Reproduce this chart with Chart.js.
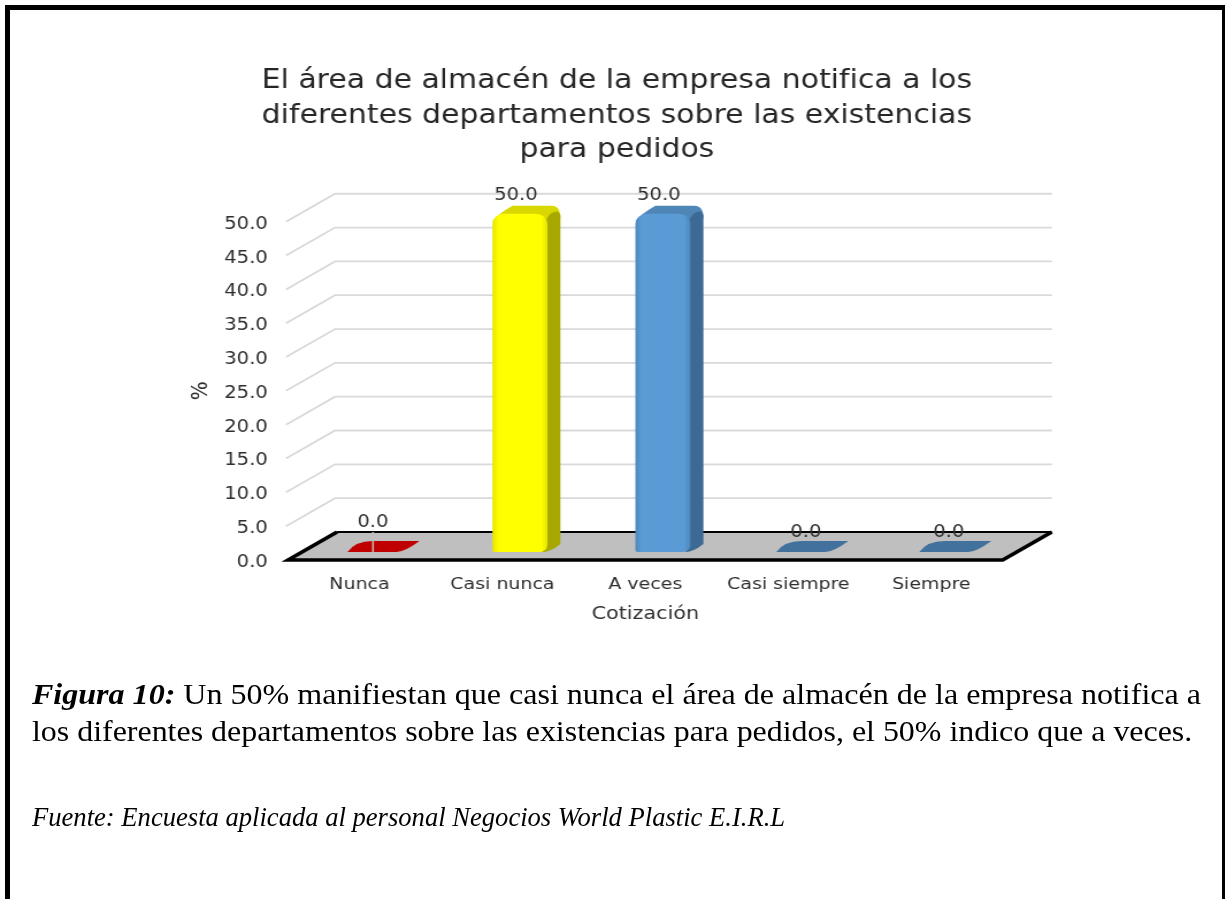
<!DOCTYPE html>
<html lang="es">
<head>
<meta charset="utf-8">
<title>Figura 10</title>
<script src="https://cdn.jsdelivr.net/npm/chart.js@4/dist/chart.umd.js"></script>
<style>
  html, body { margin: 0; padding: 0; background: #fff; }
  #page { position: relative; width: 1225px; height: 899px; overflow: hidden; }
  #frame { position: absolute; left: 5px; top: 5px; width: 1222px; height: 900px; border: 5px solid #000; box-sizing: border-box; }
  /* the figure is pasted in slightly widened */
  #barChart { position: absolute; left: 0; top: 0; transform: scaleX(1.15); transform-origin: 0 0; }
  .caption { position: absolute; left: 32px; margin: 0; font-family: "Liberation Serif", serif; color: #000; white-space: nowrap; transform-origin: 0 0; }
  #fig1 { top: 675px; font-size: 30px; line-height: 37px; transform: scaleX(1.068); }
  #fig2 { top: 712px; font-size: 30px; line-height: 37px; transform: scaleX(1.064); }
  #source { top: 801px; font-size: 26.6px; line-height: 32px; font-style: italic; }
</style>
</head>
<body>
<div id="page">
  <div id="frame"></div>
  <canvas id="barChart" width="1065" height="899"></canvas>
  <p class="caption" id="fig1"><b><i>Figura 10:</i></b> Un 50% manifiestan que casi nunca el área de almacén de la empresa notifica a</p>
  <p class="caption" id="fig2">los diferentes departamentos sobre las existencias para pedidos, el 50% indico que a veces.</p>
  <p class="caption" id="source">Fuente: Encuesta aplicada al personal Negocios World Plastic E.I.R.L</p>
</div>
<script>
const categories = ['Nunca', 'Casi nunca', 'A veces', 'Casi siempre', 'Siempre'];
const percentages = [0, 50, 50, 0, 0];
const frontColors = ['#c00000', '#ffff00', '#5b9bd5', '#41719c', '#41719c'];
const edgeColors = ['#c00000', '#e4e400', '#4c86bb', '#41719c', '#41719c'];
const sideColors = ['#8f0000', '#a8a800', '#3d6a94', '#2f5578', '#2f5578'];
const topColors = ['#c00000', '#d8d800', '#4f86b8', '#41719c', '#41719c'];
const chartTitle = [
  'El área de almacén de la empresa notifica a los',
  'diferentes departamentos sobre las existencias',
  'para pedidos'
];

const FONT = '"DejaVu Sans", sans-serif';
const TEXT = '#2e2e2e';
const STRETCH = 1.15;
const sx = v => v / STRETCH;

// oblique box: the floor and back wall sit behind the front axis
const WALL_DX = sx(49), WALL_DY = -28;
// bars stand part-way into the floor
const BAR_DX = sx(17.5), BAR_DY = -8;
const SIDE_DX = sx(13), SIDE_DY = -8;
const labelLift = [29, 18, 18, 19, 19];

function flatMarker(ctx, x, y, w, color) {
  // footprint of a bar with no height
  const dx = sx(15), dy = -11, r = sx(8), left = x - w / 2, right = x + w / 2;
  ctx.beginPath();
  ctx.moveTo(left + r, y);
  ctx.lineTo(right - r, y);
  ctx.quadraticCurveTo(right, y, right + dx, y + dy);
  ctx.lineTo(left + dx + r, y + dy);
  ctx.quadraticCurveTo(left + sx(6), y + dy, left - sx(2), y);
  ctx.closePath();
  ctx.fillStyle = color;
  ctx.fill();
}

function barDepth(ctx, left, right, top, base, i) {
  // top face, rounded towards the back
  ctx.beginPath();
  ctx.moveTo(left, top + 8);
  ctx.quadraticCurveTo(left + sx(4), top + 1, left + sx(20), top + SIDE_DY);
  ctx.lineTo(right + SIDE_DX - sx(9), top + SIDE_DY);
  ctx.quadraticCurveTo(right + SIDE_DX, top + SIDE_DY, right + SIDE_DX, top + 4);
  ctx.lineTo(right, top + 12);
  ctx.closePath();
  ctx.fillStyle = topColors[i];
  ctx.fill();
  // side face
  ctx.beginPath();
  ctx.moveTo(right - sx(5), base);
  ctx.quadraticCurveTo(right + sx(3), base, right + SIDE_DX, base + SIDE_DY);
  ctx.lineTo(right + SIDE_DX, top + 2);
  ctx.quadraticCurveTo(right + SIDE_DX - sx(2), top + SIDE_DY + 2, right + sx(2), top + 1);
  ctx.lineTo(right - sx(4), top + 10);
  ctx.closePath();
  ctx.fillStyle = sideColors[i];
  ctx.fill();
}

const boxPlugin = {
  id: 'box3d',
  afterLayout(chart) {
    // the heading is centred a little to the right of the plot box
    chart.titleBlock.left += sx(22);
    chart.titleBlock.right += sx(22);
  },
  beforeDraw(chart) {
    const ctx = chart.ctx, y = chart.scales.y, a = chart.chartArea;
    ctx.save();
    // side and back wall lines, skipping the floor level
    ctx.strokeStyle = '#d9d9d9';
    ctx.lineWidth = 1.8;
    y.ticks.forEach(t => {
      if (t.value === 0) return;
      const py = y.getPixelForValue(t.value);
      ctx.beginPath();
      ctx.moveTo(a.left - sx(2), py);
      ctx.lineTo(a.left + WALL_DX - sx(2), py + WALL_DY);
      ctx.lineTo(a.right + WALL_DX, py + WALL_DY);
      ctx.stroke();
    });
    // floor
    ctx.beginPath();
    ctx.moveTo(a.left, a.bottom);
    ctx.lineTo(a.left + WALL_DX, a.bottom + WALL_DY);
    ctx.lineTo(a.right + WALL_DX, a.bottom + WALL_DY);
    ctx.lineTo(a.right, a.bottom);
    ctx.closePath();
    ctx.fillStyle = '#bfbfbf';
    ctx.fill();
    ctx.strokeStyle = '#000';
    ctx.lineWidth = 2;
    ctx.beginPath();
    ctx.moveTo(a.left + WALL_DX, a.bottom + WALL_DY);
    ctx.lineTo(a.right + WALL_DX, a.bottom + WALL_DY);
    ctx.stroke();
    ctx.lineWidth = 3.5;
    ctx.beginPath();
    ctx.moveTo(a.left + WALL_DX, a.bottom + WALL_DY);
    ctx.lineTo(a.left, a.bottom);
    ctx.lineTo(a.right, a.bottom);
    ctx.lineTo(a.right + WALL_DX, a.bottom + WALL_DY);
    ctx.stroke();
    ctx.restore();
  },
  beforeDatasetsDraw(chart) {
    const ctx = chart.ctx;
    chart.getDatasetMeta(0).data.forEach((bar, i) => {
      const cx = bar.x + BAR_DX, base = bar.base + BAR_DY, top = bar.y + BAR_DY;
      if (percentages[i] === 0) {
        flatMarker(ctx, cx, base, bar.width, frontColors[i]);
      } else {
        barDepth(ctx, cx - bar.width / 2, cx + bar.width / 2, top, base, i);
      }
    });
    ctx.save();
    ctx.translate(BAR_DX, BAR_DY);
  },
  afterDatasetsDraw(chart) {
    const ctx = chart.ctx;
    ctx.restore();
    ctx.save();
    chart.getDatasetMeta(0).data.forEach((bar, i) => {
      const cx = bar.x + BAR_DX - (i < 3 ? sx(4) : 0);
      const py = bar.y + BAR_DY - labelLift[i];
      // leader from the lifted value label down to its marker
      if (i === 0) {
        ctx.strokeStyle = '#bfbfbf';
        ctx.lineWidth = 1.5;
        ctx.beginPath();
        ctx.moveTo(cx, py + 9);
        ctx.lineTo(cx, bar.base + BAR_DY);
        ctx.stroke();
      }
      ctx.font = '17px ' + FONT;
      ctx.fillStyle = TEXT;
      ctx.textAlign = 'center';
      ctx.textBaseline = 'middle';
      ctx.fillText(percentages[i].toFixed(1), cx, py);
    });
    ctx.restore();
  }
};

new Chart(document.getElementById('barChart'), {
  type: 'bar',
  plugins: [boxPlugin],
  data: {
    labels: categories,
    datasets: [{
      data: percentages,
      clip: false,
      categoryPercentage: 1,
      barPercentage: 0.385,
      borderWidth: 0,
      borderSkipped: false,
      borderRadius: { topLeft: 10, topRight: 10, bottomLeft: 2, bottomRight: 7 },
      backgroundColor(c) {
        const i = c.dataIndex;
        const mid = i === undefined ? NaN : c.chart.scales.x.getPixelForValue(i);
        // options are also resolved before the scales have a size
        if (!Number.isFinite(mid)) return frontColors[0];
        // cylinder-like shading across the front face
        const half = sx(28);
        const g = c.chart.ctx.createLinearGradient(mid - half, 0, mid + half, 0);
        g.addColorStop(0, edgeColors[i]);
        g.addColorStop(0.12, frontColors[i]);
        g.addColorStop(0.88, frontColors[i]);
        g.addColorStop(1, edgeColors[i]);
        return g;
      }
    }]
  },
  options: {
    responsive: false,
    animation: false,
    layout: { padding: { left: sx(187), right: sx(222), top: 64, bottom: 269 } },
    plugins: {
      legend: { display: false },
      tooltip: { enabled: false },
      title: {
        display: true,
        text: chartTitle,
        color: '#262626',
        font: { family: FONT, size: 26, weight: 'normal', lineHeight: 1.33 },
        padding: { top: 0, bottom: 54 }
      }
    },
    scales: {
      x: {
        offset: true,
        grid: { display: false },
        border: { display: false },
        afterFit(s) { s.height = 70; },
        ticks: { color: TEXT, font: { family: FONT, size: 16.5 }, padding: 7, maxRotation: 0 },
        title: { display: true, text: 'Cotización', color: TEXT, font: { family: FONT, size: 18 }, padding: { top: 0, bottom: 5 } }
      },
      y: {
        min: 0,
        max: 50,
        grid: { display: false },
        border: { display: false },
        afterFit(s) { s.width = sx(101); },
        ticks: {
          stepSize: 5,
          color: TEXT,
          padding: sx(11),
          font: { family: FONT, size: 17, lineHeight: 0.3 },
          // leading blank line nudges the text just below the tick position
          callback: v => ['', v.toFixed(1)]
        },
        title: { display: true, text: '%', color: TEXT, font: { family: FONT, size: 20 }, padding: { top: 0, bottom: 0 } }
      }
    }
  }
});
</script>
</body>
</html>
